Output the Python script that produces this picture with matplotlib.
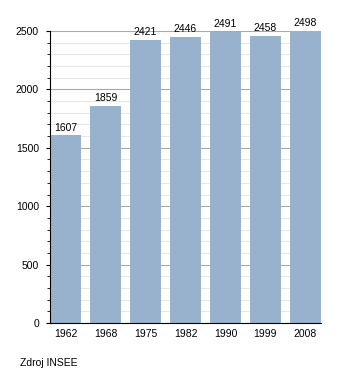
import numpy as np
import matplotlib.pyplot as plt
from matplotlib.ticker import MultipleLocator

plt.rcParams['font.family'] = ['Liberation Sans', 'DejaVu Sans']

# Population data (INSEE)
years = ['1962', '1968', '1975', '1982', '1990', '1999', '2008']
population = [1607, 1859, 2421, 2446, 2491, 2458, 2498]

fig = plt.figure(figsize=(3.5, 3.73), dpi=100)
ax = fig.add_axes([0.143, 0.134, 0.774, 0.783])

x = np.arange(len(years))
bars = ax.bar(x, population, width=0.78, color='#98b1cd', zorder=2)

for xi, val in zip(x, population):
    ax.annotate(str(val), (xi, val), xytext=(0, 2), textcoords='offset points',
                ha='center', va='bottom', fontsize=7.5)

ax.set_xlim(-0.39, len(years) - 0.61)
ax.set_ylim(0, 2500)
ax.set_xticks(x)
ax.set_xticklabels(years, fontsize=7.5)
ax.yaxis.set_major_locator(MultipleLocator(500))
ax.yaxis.set_minor_locator(MultipleLocator(100))
ax.tick_params(axis='y', labelsize=7.5, length=3, width=0.8, pad=5)
ax.tick_params(axis='y', which='minor', length=2, width=0.6)
ax.tick_params(axis='x', length=0, pad=4)

ax.grid(axis='y', which='major', color='#a8a8a8', linewidth=0.8, zorder=0)
ax.grid(axis='y', which='minor', color='#e2e2e2', linewidth=0.6, zorder=0)

for side in ['top', 'right']:
    ax.spines[side].set_visible(False)
ax.spines['left'].set_linewidth(0.8)
ax.spines['bottom'].set_linewidth(0.8)

fig.text(0.057, 0.02, 'Zdroj INSEE', fontsize=7.5)

fig.savefig('out.png', dpi=100)
